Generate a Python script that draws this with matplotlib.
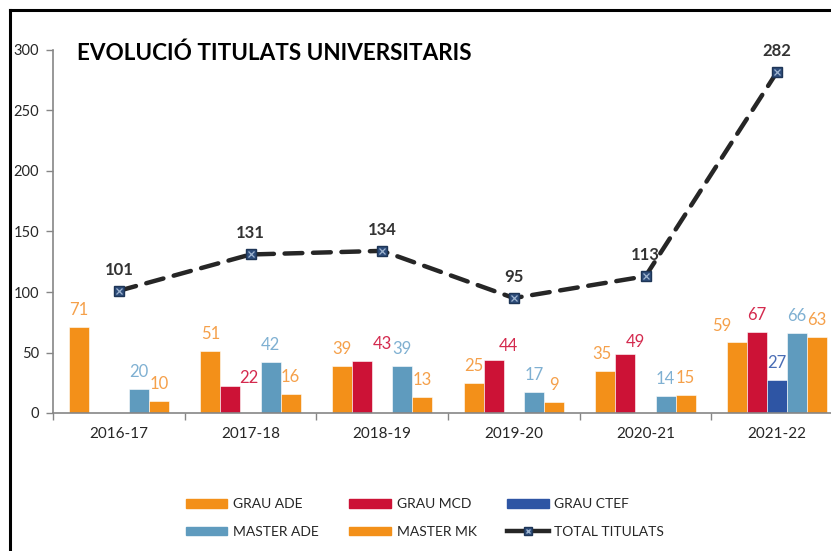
#Chart of graduates per academic year: grouped bars per degree and dashed total line
import matplotlib
matplotlib.use("Agg")
import matplotlib.pyplot as plt
import numpy as np
from matplotlib.lines import Line2D

#Data
years = ['2016-17', '2017-18', '2018-19', '2019-20', '2020-21', '2021-22']
grau_ade = [71, 51, 39, 25, 35, 59]
grau_mcd = [None, 22, 43, 44, 49, 67]
grau_ctef = [None, None, None, None, None, 27]
master_ade = [20, 42, 39, 17, 14, 66]
master_mk = [10, 16, 13, 9, 15, 63]
total = [101, 131, 134, 95, 113, 282]

series = [('GRAU ADE', grau_ade), ('GRAU MCD', grau_mcd), ('GRAU CTEF', grau_ctef),
          ('MASTER ADE', master_ade), ('MASTER MK', master_mk)]
bar_colors = ['#F39019', '#CC1236', '#2E55A4', '#5F9BBE', '#F39019']
label_colors = ['#F5A04A', '#D42A4E', '#4A6DB5', '#7FB0D2', '#F5A04A']

# label nudges (pixels) where the labels were moved off-centre in the original
nudge = {(1, 1): (18, 8), (1, 2): (20, 17), (1, 3): (15, 14), (1, 4): (10, 12),
         (0, 5): (-15, 16), (0, 4): (-4, 17)}

plt.rcParams['font.family'] = ['Lato', 'DejaVu Sans']

fig = plt.figure(figsize=(8.31, 5.51), dpi=100)
ax = fig.add_axes([53/831, 138/551, 790/831, 363/551])

x = np.arange(len(years))
w = 0.152
for i, (name, vals) in enumerate(series):
    pos = x + (i - 2) * w
    h = [np.nan if v is None else v for v in vals]
    ax.bar(pos, h, width=w, color=bar_colors[i], edgecolor='white', linewidth=0.4, label=name, zorder=2)
    for j, v in enumerate(vals):
        if v is None:
            continue
        dx, dy = nudge.get((i, j), (0, 17))
        ax.annotate(str(v), (pos[j], v), xytext=(dx, dy), textcoords='offset pixels',
                    ha='center', va='center', fontsize=12, color=label_colors[i])

#Total line
ax.plot(x, total, color='#262626', linewidth=3.2, dashes=(4, 2.4), dash_capstyle='round', zorder=3)
ax.plot(x, total, linestyle='none', marker='s', markersize=6.5, markerfacecolor='#2E4D7B',
        markeredgecolor='#1E3556', zorder=4)
ax.plot(x, total, linestyle='none', marker='x', markersize=4, markeredgewidth=0.9,
        color='#9FB5D0', zorder=5)
for j, t in enumerate(total):
    ax.annotate(str(t), (x[j], t), xytext=(0, 21), textcoords='offset pixels',
                ha='center', va='center', fontsize=12, fontweight='bold', color='#333333')

#Axes styling
ax.set_xlim(-0.5, 5.5)
ax.set_ylim(0, 300)
ax.set_yticks(np.arange(0, 301, 50))
ax.set_xticks(x)
ax.set_xticklabels(years)
ax.set_xticks(np.arange(-0.5, 6, 1), minor=True)
ax.tick_params(axis='x', which='major', length=0, labelsize=11, colors='#262626', pad=10)
ax.tick_params(axis='x', which='minor', length=5, color='#868686', width=1)
ax.tick_params(axis='y', length=5, color='#868686', width=1, labelsize=10.5, labelcolor='#262626', pad=5)
for s in ['top', 'right']:
    ax.spines[s].set_visible(False)
for s in ['left', 'bottom']:
    ax.spines[s].set_color('#868686')
    ax.spines[s].set_linewidth(1.2)

fig.text(77/831, 1 - 53/551, 'EVOLUCIÓ TITULATS UNIVERSITARIS', fontsize=16.2, fontweight='bold',
         color='black', ha='left', va='center')

#Legend
handles = [plt.Rectangle((0, 0), 1, 1, color=c) for c in bar_colors]
tot_line = Line2D([], [], color='#262626', linewidth=3.2, marker='s', markersize=6,
                  markerfacecolor='#2E4D7B', markeredgecolor='#1E3556')
tot_x = Line2D([], [], linestyle='none', marker='x', markersize=3.5, color='#9FB5D0')
handles.append((tot_line, tot_x))
labels = [s[0] for s in series] + ['TOTAL TITULATS']
order = [0, 3, 1, 4, 2, 5]
fig.legend([handles[k] for k in order], [labels[k] for k in order], ncol=3, loc='center',
           bbox_to_anchor=(425/831, 1 - 518/551), frameon=False, fontsize=10,
           handlelength=3.0, handleheight=0.55, handletextpad=0.4, columnspacing=2.2,
           labelspacing=1.1, labelcolor='#262626')

#Outer frame (only left and top edges visible)
fig.add_artist(Line2D([9.7/831, 9.7/831], [0, 1 - 9.7/551], color='black', linewidth=2.2,
                      transform=fig.transFigure, solid_capstyle='projecting'))
fig.add_artist(Line2D([9.7/831, 1], [1 - 9.7/551, 1 - 9.7/551], color='black', linewidth=2.2,
                      transform=fig.transFigure, solid_capstyle='projecting'))

plt.savefig('out.png', dpi=100)
